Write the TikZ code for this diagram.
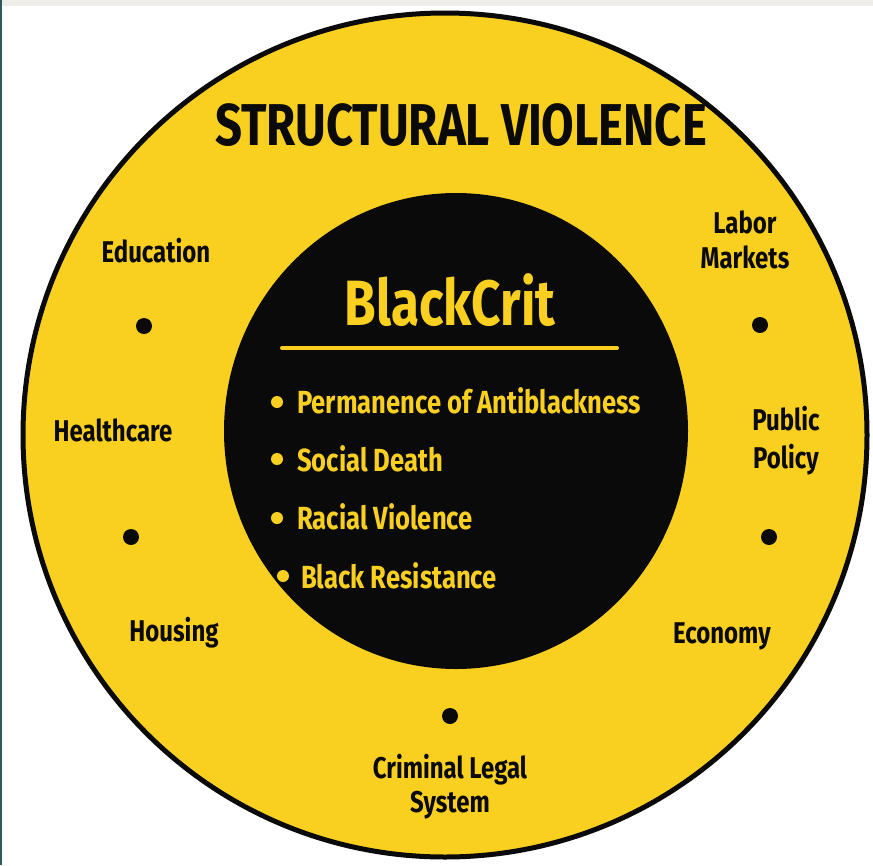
\documentclass[tikz,border=0pt]{standalone}
\usepackage{fontspec}
\setmainfont{Fira Sans}[FakeStretch=0.8]
\definecolor{yel}{RGB}{250,208,32}
\definecolor{blk}{RGB}{10,10,10}
\definecolor{topgrey}{RGB}{239,237,232}
\definecolor{edgeteal}{RGB}{47,90,90}
\tikzset{
  lbl/.style={font=\bfseries\fontsize{30}{30}\selectfont, text=blk, anchor=base, inner sep=0pt},
  item/.style={font=\bfseries\fontsize{32}{32}\selectfont, text=yel, anchor=base west, inner sep=0pt},
  odot/.style={circle, fill=blk, minimum size=16pt, inner sep=0pt},
  idot/.style={circle, fill=yel, minimum size=12pt, inner sep=0pt}
}
\begin{document}
\begin{tikzpicture}[x=1pt,y=-1pt]
\useasboundingbox (0,0) rectangle (873,865);
\fill[white] (0,0) rectangle (873,865);
\fill[topgrey] (0,0) rectangle (873,6);
\fill[edgeteal] (0,0) rectangle (2,865);
\node[circle, draw=blk, line width=5pt, fill=yel, minimum size=844pt, inner sep=0pt] (outer) at (445,435) {};
\fill[blk] (456,431) ellipse [x radius=232pt, y radius=238pt];
\coordinate (inner) at (456,431);
\node[lbl, font=\bfseries\fontsize{59}{59}\selectfont] (title) at (461,145) {STRUCTURAL VIOLENCE};
\node[lbl, text=yel, font=\bfseries\fontsize{64}{64}\selectfont] (bc) at (450,325) {BlackCrit};
\coordinate (ul1) at (282,348);
\coordinate (ul2) at (617,348);
\draw[yel, line width=4pt, line cap=round] (ul1) -- (ul2);
\node[idot] (b1) at (277,402) {};
\node[idot] (b2) at (277,459) {};
\node[idot] (b3) at (277,518) {};
\node[idot] (b4) at (283,576) {};
\node[item] (i1) at (297,413) {Permanence of Antiblackness};
\node[item] (i2) at (297,471) {Social Death};
\node[item] (i3) at (297,529) {Racial Violence};
\node[item] (i4) at (301,588) {Black Resistance};
\node[lbl] (edu) at (156,262) {Education};
\node[lbl] (lab1) at (745,233) {Labor};
\node[lbl] (lab2) at (745,268) {Markets};
\node[lbl] (hc) at (113,441) {Healthcare};
\node[lbl] (pp1) at (786,430) {Public};
\node[lbl] (pp2) at (786,468) {Policy};
\node[lbl] (hous) at (174,641) {Housing};
\node[lbl] (econ) at (722,643) {Economy};
\node[lbl] (cl1) at (450,778) {Criminal Legal};
\node[lbl] (cl2) at (450,812) {System};
\node[odot] (d1) at (144,326) {};
\node[odot] (d2) at (760,325) {};
\node[odot] (d3) at (131,537) {};
\node[odot] (d4) at (769,537) {};
\node[odot] (d5) at (450,716) {};
\end{tikzpicture}
\end{document}
